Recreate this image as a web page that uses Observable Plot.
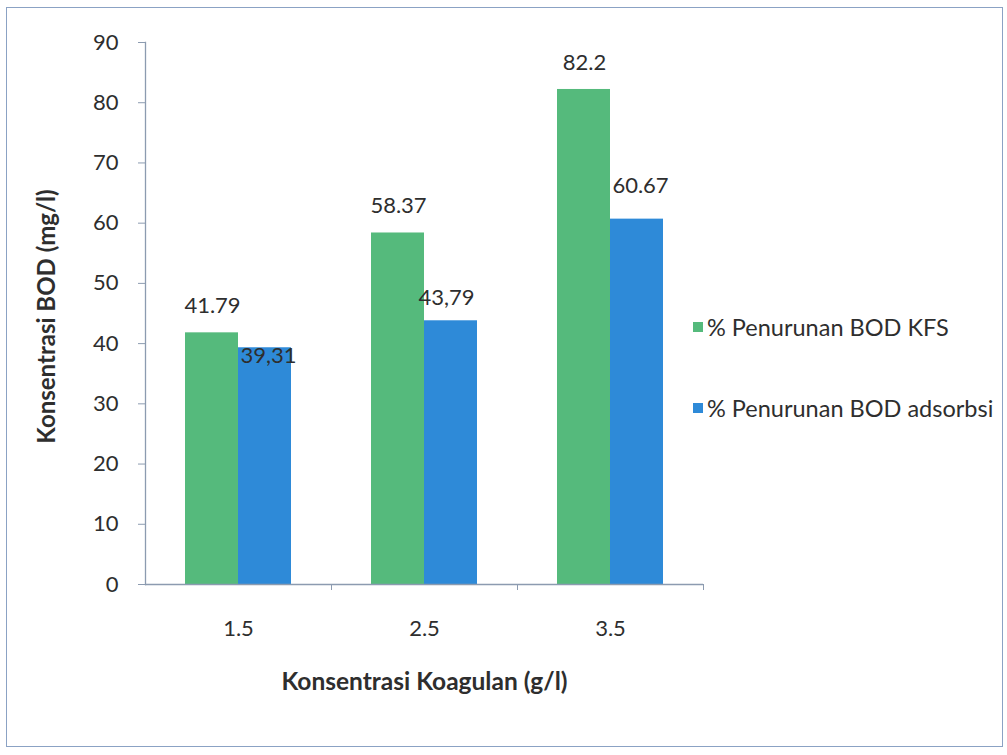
<!DOCTYPE html>
<html>
<head>
<meta charset="utf-8">
<script src="https://cdn.jsdelivr.net/npm/d3@7"></script>
<script src="https://cdn.jsdelivr.net/npm/@observablehq/plot@0.6"></script>
<style>
  html, body { margin: 0; padding: 0; background: #fff; }
  #wrap { position: relative; width: 1007px; height: 755px; font-family: Lato, "Open Sans", sans-serif; }
  #border { position: absolute; left: 6px; top: 7px; width: 997px; height: 740px; border: 1.5px solid #8ba2c4; box-sizing: border-box; pointer-events: none; }
  #chart { position: absolute; left: 0; top: 0; }
  .legend { position: absolute; left: 693px; font-size: 23.5px; line-height: 28px; color: #2e2e2e; display: flex; align-items: center; white-space: nowrap; }
  .legend .sw { width: 10px; height: 10px; margin-right: 4px; }
</style>
</head>
<body>
<div id="wrap">
  <div id="chart"></div>
  <div id="border"></div>
</div>
<script>
const categories = ["1.5", "2.5", "3.5"];
const seriesNames = ["% Penurunan BOD KFS", "% Penurunan BOD adsorbsi"];
const kfsValues = [41.79, 58.37, 82.2];
const adsorbsiValues = [39.31, 43.79, 60.67];
const kfsLabels = ["41.79", "58.37", "82.2"];
const adsorbsiLabels = ["39,31", "43,79", "60.67"];
const yTicks = [0, 10, 20, 30, 40, 50, 60, 70, 80, 90];
const colors = ["#55ba7c", "#2e8ad8"];

const kfs = categories.map((c, i) => ({cat: c, value: kfsValues[i], label: kfsLabels[i]}));
const ads = categories.map((c, i) => ({cat: c, value: adsorbsiValues[i], label: adsorbsiLabels[i]}));

const axisColor = "#8c9bb0";
const textColor = "#2e2e2e";

const plot = Plot.plot({
  width: 1007,
  height: 755,
  marginLeft: 145,
  marginRight: 304,
  marginTop: 42,
  marginBottom: 171,
  style: {fontFamily: "Lato, 'Open Sans', sans-serif", background: "transparent", color: textColor},
  x: {type: "band", domain: categories, padding: 0, label: null},
  y: {domain: [0, 90], label: null},
  marks: [
    Plot.rectY(kfs, {x: "cat", y: "value", fill: colors[0], insetLeft: 40, insetRight: 93}),
    Plot.rectY(ads, {x: "cat", y: "value", fill: colors[1], insetLeft: 93, insetRight: 40}),
    Plot.ruleY([0], {stroke: axisColor, strokeWidth: 1.3}),
    Plot.frame({anchor: "left", stroke: axisColor, strokeWidth: 1.3}),
    Plot.axisY({ticks: yTicks, tickSize: 7, tickPadding: 20, stroke: axisColor, fontSize: 22, fill: textColor, label: null}),
    Plot.axisX({tickSize: 6, dx: 93, tickFormat: () => "", stroke: axisColor, label: null}),
    Plot.axisX({tickSize: 0, tickPadding: 36, fontSize: 22, fill: textColor, label: null}),
    Plot.text(kfs, {x: "cat", y: "value", text: "label", dx: -26, dy: -27, fontSize: 22, fill: textColor}),
    Plot.text(ads.filter((d, i) => i === 0), {x: "cat", y: "value", text: "label", dx: 30, dy: 8, fontSize: 22, fill: textColor}),
    Plot.text(ads.filter((d, i) => i === 1), {x: "cat", y: "value", text: "label", dx: 22, dy: -23, fontSize: 22, fill: textColor}),
    Plot.text(ads.filter((d, i) => i === 2), {x: "cat", y: "value", text: "label", dx: 30, dy: -33, fontSize: 22, fill: textColor}),
    Plot.text(["Konsentrasi Koagulan (g/l)"], {frameAnchor: "bottom", dy: 105, fontSize: 24.5, fontWeight: "bold", fill: textColor}),
    Plot.text(["Konsentrasi BOD (mg/l)"], {frameAnchor: "left", textAnchor: "middle", dx: -98, dy: 3, rotate: -90, fontSize: 24, fontWeight: "bold", fill: textColor})
  ]
});
document.getElementById("chart").appendChild(plot);

const wrap = document.getElementById("wrap");
const legendTops = [313, 394];
seriesNames.forEach((name, i) => {
  const item = document.createElement("div");
  item.className = "legend";
  item.style.top = legendTops[i] + "px";
  const sw = document.createElement("span");
  sw.className = "sw";
  sw.style.background = colors[i];
  const t = document.createElement("span");
  t.textContent = name;
  item.appendChild(sw);
  item.appendChild(t);
  wrap.appendChild(item);
});
</script>
</body>
</html>
